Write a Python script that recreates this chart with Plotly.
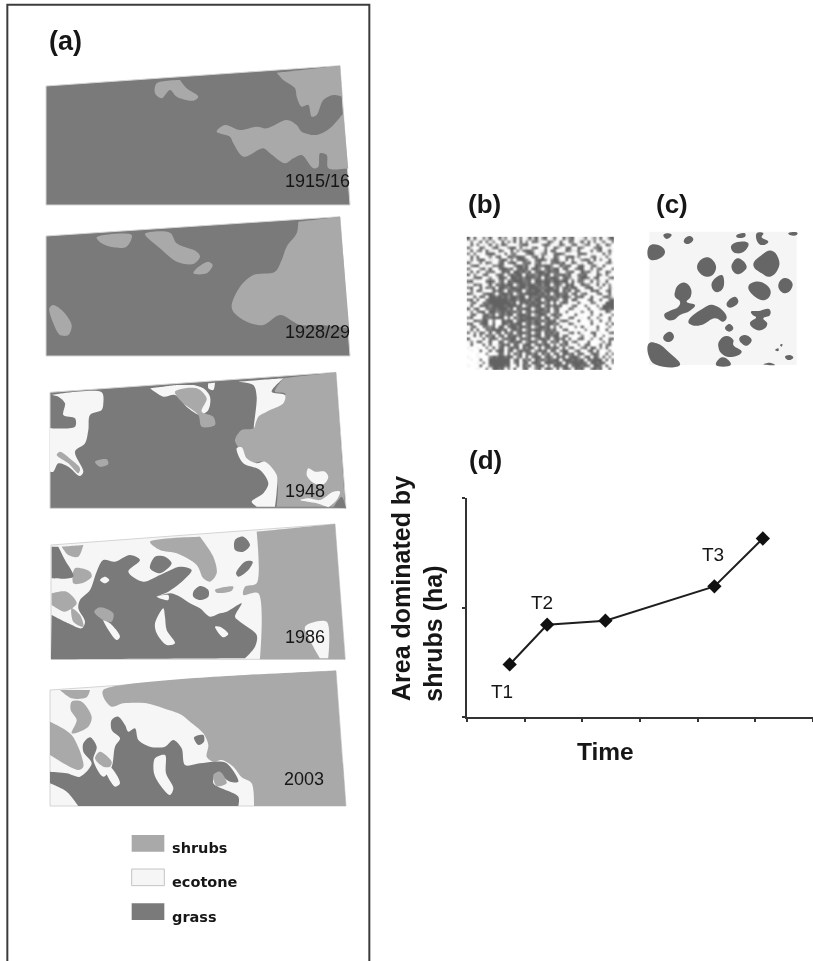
import plotly.graph_objects as go

# ---- colours
GRASS = "#7a7a7a"; SHRUB = "#a9a9a9"; ECO = "#f6f6f6"; BLOB = "#666666"; EDGE = "#d4d4d4"; INK = "#161616"

# ---- panel (d) values
time_vals = [0.74, 1.39, 2.40, 4.29, 5.13]
shrub_area = [0.48, 0.843, 0.88, 1.193, 1.63]
x_ticks = [0, 1, 2, 3, 4, 5, 6]
y_ticks = [0, 1, 2]

# ---- digitised outlines (units: 1/3 px; each map listed relative to its own y offset)
m1_outline = [(138,258),(1020,197),(1050,615),(138,615)]
m1_shrub = [
 [(830,218),(1020,197),(1027,290),(1000,285),(970,300),(950,345),(935,350),(925,315),(905,320),(890,290),(885,265),(850,240)],
 [(470,250),(540,240),(560,265),(595,290),(580,302),(530,290),(510,270),(485,295),(465,280)],
 [(650,395),(675,375),(720,390),(770,380),(800,385),(860,360),(890,375),(905,395),(950,405),(990,385),(1030,340),(1045,505),(985,505),(980,465),(960,460),(955,500),(940,505),(905,465),(880,475),(855,490),(810,460),(790,445),(730,470),(700,430),(690,410)],
]
m2_outline = [(138,708),(1020,650),(1050,1068),(138,1068)]
m2_shrub = [
 [(895,665),(1020,650),(1048,985),(960,975),(900,975),(840,945),(790,975),(740,965),(700,935),(695,915),(720,860),(760,825),(825,815),(845,780),(860,740),(890,700)],
 [(290,712),(395,705),(380,740),(340,742),(305,730)],
 [(435,702),(510,698),(530,730),(590,755),(600,770),(580,792),(530,785),(480,745)],
 [(580,820),(590,805),(625,785),(638,795),(620,820)],
 [(148,925),(160,915),(190,935),(215,975),(205,1005),(180,1005),(160,970)],
]
m3_outline = [(150,97),(1008,37),(1038,445),(150,445)]
m3_shrub = [
 [(850,55),(1008,37),(1036,440),(830,440),(830,350),(790,305),(750,310),(720,270),(705,240),(725,210),(760,205),(775,165),(850,120),(855,100),(825,95)],
]
m3_eco = [
 [(715,65),(850,55),(815,95),(855,105),(850,130),(800,155),(775,170),(762,205),(770,110),(760,75)],
 [(710,265),(725,262),(740,295),(770,310),(795,305),(830,345),(830,395),(825,440),(770,440),(755,425),(790,400),(805,370),(780,330),(730,310)],
 [(925,325),(945,335),(975,335),(985,350),(975,370),(960,375),(935,365),(920,345)],
 [(900,420),(925,415),(960,420),(1000,395),(1020,395),(1010,420),(985,442),(950,430)],
 [(155,105),(305,97),(310,130),(305,150),(270,165),(265,210),(255,250),(225,275),(250,335),(240,348),(205,320),(175,310),(160,335),(150,335),(150,205),(225,200),(225,175),(190,165),(195,130),(175,110)],
 [(450,85),(530,75),(580,75),(610,85),(630,110),(625,150),(600,165),(565,145),(525,105),(490,110)],
 [(625,70),(645,68),(640,90),(625,85)],
]
m3_shrub_top = [
 [(170,285),(180,275),(215,300),(240,325),(235,340),(205,310)],
 [(285,305),(320,298),(325,312),(300,320)],
 [(525,95),(590,85),(620,115),(605,155),(640,170),(645,195),(605,200),(595,165),(550,130)],
]
m3_grass_top = [[(1000,442),(1025,410),(1038,445)]]
m4_outline = [(153,555),(1005,492),(1036,898),(153,898)]
m4_shrub = [
 [(770,515),(1005,492),(1036,898),(780,898),(775,700),(730,705),(735,680),(770,670)],
 [(450,545),(600,530),(640,590),(650,640),(630,665),(610,655),(590,615),(530,580),(480,570)],
 [(185,560),(250,555),(235,590),(205,585)],
 [(225,625),(270,635),(275,650),(245,670),(220,670)],
 [(155,700),(200,695),(230,730),(195,755),(155,735)],
 [(215,745),(240,765),(250,800),(220,785)],
 [(645,690),(700,680),(695,692),(650,698)],
]
m4_eco_on_shrub = [[(915,800),(980,785),(985,895),(960,895),(940,860)]]
m4_grass = [
 [(155,765),(205,790),(245,805),(255,785),(235,745),(240,720),(270,690),(290,635),(310,600),(345,605),(390,585),(420,600),(385,635),(430,665),(480,645),(540,620),(575,630),(540,670),(505,695),(470,710),(510,700),(540,710),(570,730),(600,745),(630,770),(660,760),(680,755),(725,730),(705,770),(720,785),(770,825),(765,860),(735,895),(153,898)],
 [(155,560),(175,560),(195,600),(220,650),(155,655)],
 [(450,625),(465,590),(495,590),(515,610),(480,640)],
 [(705,540),(730,530),(750,555),(730,575),(705,570)],
 [(708,640),(735,605),(758,605),(745,630),(715,650)],
 [(580,695),(600,678),(625,690),(625,710),(600,720),(580,710)],
]
m4_eco_on_grass = [
 [(300,660),(315,650),(328,660),(315,670)],
 [(310,780),(330,790),(360,830),(350,840)],
 [(490,745),(495,770),(500,810),(525,850),(500,855),(470,820),(465,790)],
 [(470,710),(505,705),(505,720)],
 [(645,800),(660,800),(685,822),(670,832)],
]
m4_shrub_on_grass = [[(283,755),(300,742),(340,760),(335,785),(310,780)]]
m5_outline = [(150,90),(1008,32),(1038,438),(150,438)]
m5_shrub = [
 [(310,90),(1008,32),(1038,438),(762,438),(755,370),(725,352),(700,320),(665,300),(640,305),(620,290),(625,255),(610,220),(570,185),(545,165),(490,145),(440,130),(370,130),(335,140),(310,110)],
 [(150,185),(215,225),(250,320),(235,330),(150,285)],
 [(180,90),(270,90),(260,112),(215,115)],
 [(215,125),(245,125),(275,170),(265,200),(215,220),(230,180),(212,150)],
]
m5_grass = [
 [(150,335),(200,340),(240,350),(275,310),(250,275),(250,250),(270,232),(290,260),(280,300),(310,350),(335,320),(345,260),(360,235),(335,210),(335,180),(355,170),(375,195),(385,215),(405,205),(415,240),(450,260),(495,260),(520,240),(545,265),(555,315),(600,310),(640,305),(680,310),(715,365),(690,365),(650,340),(640,370),(715,410),(715,438),(235,438),(200,395),(150,370)],
 [(582,232),(610,225),(612,245),(595,255)],
]
m5_eco_on_grass = [
 [(465,295),(495,285),(498,340),(520,385),(510,405),(480,375),(462,340)],
 [(315,325),(330,320),(360,370),(345,380)],
]
m5_shrub_on_grass = [
 [(640,345),(660,335),(680,370),(650,378)],
 [(285,295),(300,275),(335,305),(330,320),(310,320)],
]
# panel (c) patches (crop units: 1/3 px, relative to the crop at 450,180 px)
c_patches = [
 [(598,198),(625,195),(645,215),(630,235),(598,237)],
 [(640,165),(655,160),(665,165),(650,177)],
 [(705,175),(720,168),(730,178),(715,192),(702,187)],
 [(860,165),(885,160),(885,170),(860,172)],
 [(845,195),(870,185),(895,190),(885,212),(860,220),(845,210)],
 [(920,160),(940,160),(935,172),(955,185),(940,195),(925,190)],
 [(1015,160),(1042,158),(1040,165),(1020,165)],
 [(770,232),(795,250),(795,275),(775,290),(750,280),(742,255)],
 [(865,235),(890,260),(880,275),(860,282),(845,265),(850,245)],
 [(910,255),(935,225),(965,212),(985,235),(985,265),(960,290),(935,280)],
 [(785,310),(815,285),(822,300),(815,330),(795,335)],
 [(1000,295),(1025,305),(1025,325),(1005,340),(985,320)],
 [(895,320),(915,305),(950,315),(962,340),(945,360),(915,350)],
 [(675,335),(685,315),(705,308),(722,325),(722,350),(710,365),(735,375),(720,392),(690,405),(670,420),(650,418),(643,403),(660,392),(685,380),(690,365),(675,350)],
 [(715,425),(760,385),(790,375),(830,410),(820,425),(795,415),(755,435),(725,435)],
 [(830,370),(855,350),(865,365),(850,380),(835,382)],
 [(903,395),(925,393),(958,388),(960,405),(940,415),(952,432),(935,450),(910,445),(900,428),(918,412),(908,405)],
 [(825,445),(838,432),(850,445),(838,455)],
 [(640,470),(660,455),(672,470),(660,485),(645,483)],
 [(810,480),(830,468),(850,480),(850,495),(875,515),(850,530),(820,525),(805,500)],
 [(868,475),(885,465),(905,480),(890,497),(875,490)],
 [(597,490),(620,490),(660,520),(690,555),(620,555),(597,530)],
 [(798,555),(815,532),(835,540),(842,555)],
 [(940,553),(960,548),(975,555)],
 [(1005,530),(1020,525),(1030,533),(1015,540)],
 [(975,510),(985,505),(985,513)],
 [(990,495),(997,492),(995,500)],
]
# panel (b): grey level by eye, 0 = white ... 9 = dark, one string per row
b_rows = [
 "909107290193702918029391790281093790128037190289",
 "170290817009172909170882019720910870290917028107",
 "091802190729810027991100798102970189027801920970",
 "820097018920179908120790081097208910970017890120",
 "190780921097009172899701290980019722900180790291",
 "708010899120907810079912780189970100898021009170",
 "091900170890098799810790912097018992701079120810",
 "180799021079917089972089970798109080179809071090",
 "920180970189079910889079120889790197020981100792",
 "079901208798100799792098899701978900891079209100",
 "810079190089979089891997089799089107990180791008",
 "190920788019890998979089979889107890097920810970",
 "907108900798079899098979899088997901889010970810",
 "018990170299809989799889098998089720799708901079",
 "890100898079098999889099899799899091880190720900",
 "109780190989899079989989799089709890098701909170",
 "790091879099879989979998889979189799107990170081",
 "080981009798098899089899799899097908901098900790",
 "971007998089989079899998979089889089079100790190",
 "009198099898979989909889898979799708890091008972",
 "890900899999989979989799089897089099100790190089",
 "079108899999998909898989979090798010910087010999",
 "190098979999899989079899089798901079008100709999",
 "908900889899979098999089979089100970100900179989",
 "170799099789898979089799889079018001070190010970",
 "089108979089799089989079980897901009100070091007",
 "790019889999080979899989099079100890010900710090",
 "109879908009899089989798979890798100900170090170",
 "890089909009979899089799089979010970100090100809",
 "079108879099089979989079989080901007090100900170",
 "190900889998908989079899789791089001007010700900",
 "807198090890979089989089098979100790910089010079",
 "019080979089098979079899089799089010070109007010",
 "900109089707989908989079989089790900890070190089",
 "170890190098079899079980890979089079100900017090",
 "090009080179890980899089799080979100708900190790",
 "100100709089079890979909089798090890079099070900",
 "010090090899089079898079890980799007900890900170",
 "000100700198090979089790979089099790890089800907",
 "100100079899899079090899089709890899709909809070",
 "010080099999990890979098979899099989890989990908",
 "000107099999990790890998099989909899998099899007",
 "100090089999890090979089908099899089989809980910",
 "000100709989070900890179089709089709890089790090",
]
b_z = [[int(ch) for ch in row] for row in b_rows]

frame_x = [22, 22, 1108, 1108]
frame_y = [2883, 14, 14, 2883]

fig = go.Figure()

def near_outline(pt, outline, tol=10):
    n = len(outline)
    for i in range(n):
        ax, ay = outline[i]; bx, by = outline[(i + 1) % n]
        dx, dy = bx - ax, by - ay
        t = ((pt[0] - ax) * dx + (pt[1] - ay) * dy) / (dx * dx + dy * dy)
        t = max(0, min(1, t))
        if ((pt[0] - ax - t * dx) ** 2 + (pt[1] - ay - t * dy) ** 2) ** 0.5 < tol:
            return True
    return False

def shape(polys, colour, dy=0, dx=0, smooth=0, edge=None, outline=None):
    xs, ys = [], []
    for p in polys:
        pts = []
        for q in list(p) + [p[0]]:
            pts.append(q)
            if outline and near_outline(q, outline):  # keep corners sharp along a map's edge
                pts.append(q)
        xs += [q[0] + dx for q in pts] + [None]
        ys += [q[1] + dy for q in pts] + [None]
    line = dict(color=edge or colour, width=1 if edge else 0)
    if smooth:
        line.update(shape="spline", smoothing=smooth)
    fig.add_trace(go.Scatter(x=xs, y=ys, mode="lines", fill="toself", fillcolor=colour,
                             line=line, hoverinfo="skip", showlegend=False))

# frame
fig.add_trace(go.Scatter(x=frame_x, y=frame_y, mode="lines", line=dict(color="#3c3c3c", width=2),
                         hoverinfo="skip", showlegend=False))

# map 1
shape([m1_outline], GRASS, edge=EDGE)
shape(m1_shrub, SHRUB, smooth=0.9, outline=m1_outline)
# map 2
shape([m2_outline], GRASS, edge=EDGE)
shape(m2_shrub, SHRUB, smooth=0.9, outline=m2_outline)
# map 3 (crop starts 360 px down)
D2 = 1080
shape([m3_outline], GRASS, D2, edge=EDGE)
for polys, col in [(m3_shrub, SHRUB), (m3_eco, ECO), (m3_shrub_top, SHRUB), (m3_grass_top, GRASS)]:
    shape(polys, col, D2, smooth=0.9, outline=m3_outline)
# map 4
shape([m4_outline], ECO, D2, edge=EDGE)
for polys, col in [(m4_shrub, SHRUB), (m4_eco_on_shrub, ECO), (m4_grass, GRASS), (m4_eco_on_grass, ECO), (m4_shrub_on_grass, SHRUB)]:
    shape(polys, col, D2, smooth=0.9, outline=m4_outline)
# map 5 (crop starts 660 px down)
D3 = 1980
shape([m5_outline], ECO, D3, edge=EDGE)
for polys, col in [(m5_shrub, SHRUB), (m5_grass, GRASS), (m5_eco_on_grass, ECO), (m5_shrub_on_grass, SHRUB)]:
    shape(polys, col, D3, smooth=0.9, outline=m5_outline)

# legend swatches
legend_names = ["shrubs", "ecotone", "grass"]
legend_cols = [SHRUB, ECO, GRASS]
legend_tops = [525, 627, 730]
for name, col, top in zip(legend_names, legend_cols, legend_tops):
    shape([[(395, top), (493, top), (493, top + 50), (395, top + 50)]], col, D3,
          edge="#c4c4c4" if col == ECO else None)
    fig.add_annotation(x=510, y=top + 40 + D3, text=f"<b>{name}</b>", showarrow=False, xanchor="left",
                       font=dict(family="DejaVu Sans", size=14.5, color=INK))

# panel (b)
fig.add_trace(go.Heatmap(z=b_z, x0=1350 + 55, dx=9.2, y0=540 + 175, dy=9.1, zsmooth="best", showscale=False,
                         zmin=0, zmax=9,
                         colorscale=[[0, "#ffffff"], [0.2, "#eeeeee"], [0.8, "#8a8a8a"], [1, "#626262"]],
                         hoverinfo="skip"))
# panel (c)
shape([[(598,155),(1040,155),(1040,555),(598,555)]], "#f5f5f5", 540, 1350)
shape(c_patches, BLOB, 540, 1350, smooth=1.3)

# panel (d)
fig.add_trace(go.Scatter(x=time_vals, y=shrub_area, xaxis="x2", yaxis="y2", mode="lines+markers",
                         line=dict(color="#1e1e1e", width=2),
                         marker=dict(symbol="diamond", size=11, color="#111111"),
                         hoverinfo="skip", showlegend=False))

# texts
def label(x, y, text, size, bold=False, angle=0):
    fig.add_annotation(x=x, y=y, text=f"<b>{text}</b>" if bold else text, showarrow=False, textangle=angle,
                       xanchor="center", yanchor="middle",
                       font=dict(family="Liberation Sans", size=size, color=INK))

label(197, 122, "(a)", 27, True)
label(1453, 612, "(b)", 26, True)
label(2015, 612, "(c)", 26, True)
label(1455, 1380, "(d)", 26, True)
label(951, 543, "1915/16", 18)
label(951, 997, "1928/29", 18)
label(915, 1472, "1948", 18)
label(915, 1910, "1986", 18)
label(912, 2338, "2003", 18)
label(1506, 2075, "T1", 19)
label(1625, 1807, "T2", 19)
label(2138, 1662, "T3", 19)
label(1203, 1767, "Area dominated by", 25, True, -90)
label(1298, 1902, "shrubs (ha)", 25, True, -90)
label(1817, 2253, "Time", 24.5, True)

axis_off = dict(visible=False, showgrid=False, zeroline=False, fixedrange=True)
fig.update_layout(
    width=813, height=961, autosize=False, margin=dict(l=0, r=0, t=0, b=0),
    paper_bgcolor="white", plot_bgcolor="rgba(0,0,0,0)", showlegend=False,
    xaxis=dict(range=[0, 2439], domain=[0, 1], **axis_off),
    yaxis=dict(range=[2883, 0], domain=[0, 1], **axis_off),
    xaxis2=dict(domain=[467 / 813, 1], range=[0, 6], anchor="y2", tickmode="array", tickvals=x_ticks,
                ticktext=[""] * len(x_ticks), ticks="outside", ticklen=3, tickwidth=1.5, tickcolor="#333",
                showline=True, linecolor="#333", linewidth=2, showgrid=False, zeroline=False),
    yaxis2=dict(domain=[(961 - 717) / 961, (961 - 498) / 961], range=[0, 2], anchor="x2", tickmode="array",
                tickvals=y_ticks, ticktext=[""] * len(y_ticks), ticks="outside", ticklen=3, tickwidth=1.5,
                tickcolor="#333", showline=True, linecolor="#333", linewidth=2, showgrid=False, zeroline=False),
)
fig.write_html("out.html", config=dict(displayModeBar=False),
               post_script="document.body.style.margin='0';document.documentElement.style.overflow='hidden';"
                           "document.querySelector('.svg-container').style.filter='blur(0.6px)';")
